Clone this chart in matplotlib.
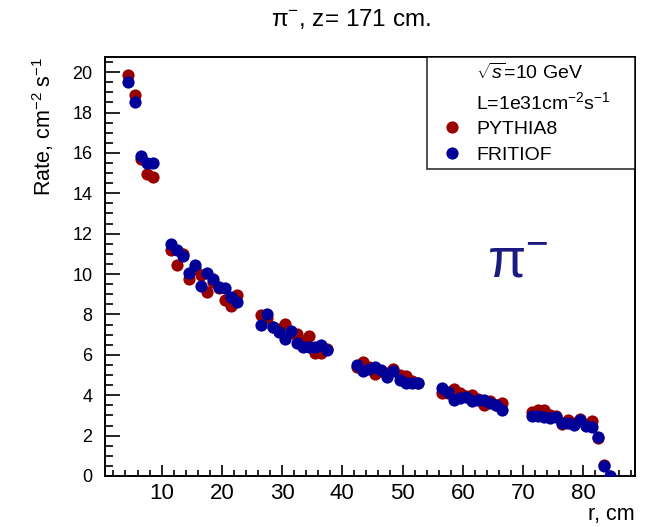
import matplotlib
matplotlib.use("Agg")
import matplotlib.pyplot as plt
from matplotlib.lines import Line2D
from matplotlib.ticker import MultipleLocator

plt.rcParams['font.family'] = ['Liberation Sans', 'DejaVu Sans']
plt.rcParams['mathtext.fontset'] = 'custom'
plt.rcParams['mathtext.rm'] = 'Liberation Sans'
plt.rcParams['mathtext.it'] = 'Liberation Sans:italic'
plt.rcParams['mathtext.sf'] = 'Liberation Sans'

# ---- data ----
r_cm = [4.5, 5.5, 6.5, 7.5, 8.5,
        11.5, 12.5, 13.5, 14.5, 15.5, 16.5, 17.5, 18.5, 19.5, 20.5, 21.5, 22.5,
        26.5, 27.5, 28.5, 29.5, 30.5, 31.5, 32.5, 33.5, 34.5, 35.5, 36.5, 37.5,
        42.5, 43.5, 44.5, 45.5, 46.5, 47.5, 48.5, 49.5, 50.5, 51.5, 52.5,
        56.5, 57.5, 58.5, 59.5, 60.5, 61.5, 62.5, 63.5, 64.5, 65.5, 66.5,
        71.5, 72.5, 73.5, 74.5, 75.5, 76.5, 77.5, 78.5, 79.5, 80.5, 81.5, 82.5,
        83.5, 84.5]

pythia8 = [19.85, 18.86, 15.69, 14.95, 14.79,
           11.20, 10.45, 11.00, 9.74, 10.30, 9.95, 9.10, 9.60, 9.30, 8.70, 8.40, 8.96,
           7.95, 7.80, 7.40, 7.30, 7.54, 7.10, 7.03, 6.70, 6.92, 6.07, 6.07, 6.30,
           5.40, 5.66, 5.40, 5.05, 5.20, 5.10, 5.28, 5.00, 4.95, 4.70, 4.60,
           4.10, 4.10, 4.29, 4.09, 3.95, 4.00, 3.80, 3.51, 3.70, 3.50, 3.63,
           3.18, 3.27, 3.27, 3.00, 2.95, 2.57, 2.75, 2.60, 2.80, 2.52, 2.74, 1.90,
           0.55, 0.02]

fritiof = [19.52, 18.53, 15.86, 15.48, 15.48,
           11.50, 11.20, 10.90, 10.07, 10.45, 9.42, 10.07, 9.74, 9.37, 9.29, 8.88, 8.63,
           7.48, 8.02, 7.39, 7.14, 6.77, 7.16, 6.60, 6.40, 6.40, 6.40, 6.50, 6.22,
           5.50, 5.21, 5.28, 5.38, 5.25, 4.89, 5.21, 4.75, 4.59, 4.59, 4.62,
           4.34, 4.17, 3.76, 3.85, 3.90, 3.73, 3.76, 3.76, 3.63, 3.51, 3.27,
           2.97, 2.97, 2.90, 2.86, 2.90, 2.64, 2.61, 2.52, 2.77, 2.48, 2.44, 1.95,
           0.50, 0.00]

RED = '#990000'
BLUE = '#000099'

fig = plt.figure(figsize=(6.5, 5.27), dpi=100)
ax = fig.add_axes([105/650, 1-476/527, 530/650, 419/527])

ax.plot(r_cm, pythia8, 'o', color=RED, markersize=8.8, markeredgewidth=0, zorder=3)
ax.plot(r_cm, fritiof, 'o', color=BLUE, markersize=8.8, markeredgewidth=0, zorder=4)

ax.set_xlim(0.6, 88.6)
ax.set_ylim(0, 20.75)

ax.xaxis.set_major_locator(MultipleLocator(10))
ax.xaxis.set_minor_locator(MultipleLocator(2))
ax.yaxis.set_major_locator(MultipleLocator(2))
ax.yaxis.set_minor_locator(MultipleLocator(0.5))

for s in ax.spines.values():
    s.set_linewidth(1.4)

ax.tick_params(axis='x', which='major', direction='in', length=8, width=1.2, labelsize=16, pad=5)
ax.tick_params(axis='x', which='minor', direction='in', length=4, width=1.2)
ax.tick_params(axis='y', which='major', direction='in', length=11, width=1.2, labelsize=13, pad=9)
ax.tick_params(axis='y', which='minor', direction='in', length=5.5, width=1.2)

ax.set_xlabel('r, cm', loc='right', fontsize=15.5, labelpad=0)
ax.set_ylabel(r'Rate, cm$^{-2}$ s$^{-1}$', loc='top', fontsize=15.5, labelpad=12)
ax.yaxis.label.set_y(1.0)

fig.text(351/650, 1-19/527, r'$\mathrm{\pi}^{-}$, z= 171 cm.', ha='center', va='center', fontsize=17.5)

ax.text(0.72, 0.477, r'$\mathrm{\pi}^{-}$', transform=ax.transAxes, fontsize=40,
        color='#1a1a80', ha='left', va='baseline')

handles = [Line2D([], [], linestyle='none'),
           Line2D([], [], linestyle='none'),
           Line2D([], [], linestyle='none', marker='o', color=RED, markersize=8.8, markeredgewidth=0),
           Line2D([], [], linestyle='none', marker='o', color=BLUE, markersize=8.8, markeredgewidth=0)]
labels = [r'$\sqrt{s}$=10 GeV', r'L=1e31cm$^{-2}$s$^{-1}$', 'PYTHIA8', 'FRITIOF']
leg = ax.legend(handles, labels, loc='upper left', bbox_to_anchor=(0.6075, 0.0, 0.3925, 1.0),
                mode='expand', borderaxespad=0, fontsize=14, frameon=True, fancybox=False,
                borderpad=0.3, handlelength=1.98, handletextpad=0.25, labelspacing=0.4)
leg.get_frame().set_edgecolor('black')
leg.get_frame().set_linewidth(1.2)

fig.savefig('out.png', dpi=100)
